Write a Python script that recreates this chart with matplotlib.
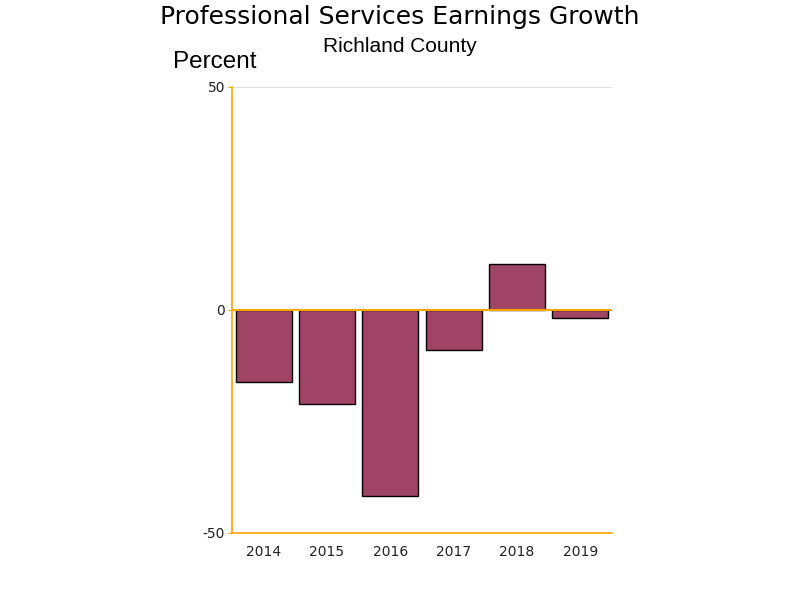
import matplotlib
matplotlib.use("Agg")
import matplotlib.pyplot as plt

years = ["2014", "2015", "2016", "2017", "2018", "2019"]
growth = [-16.2, -21.1, -41.7, -9.0, 10.2, -1.9]
yticks = [-50, 0, 50]

orange = "#FFA500"
bar_color = "#A04466"

fig = plt.figure(figsize=(8, 6), dpi=100)
ax = fig.add_axes([0.29, 0.112, 0.475, 0.743])

x = list(range(len(years)))
ax.bar(x, growth, width=0.885, color=bar_color, edgecolor="black", linewidth=1, zorder=3)
ax.axhline(0, color=orange, linewidth=1.5, zorder=4)
ax.axhline(50, color="#E0E0E0", linewidth=0.8, zorder=1)

ax.set_xlim(-0.5, len(years) - 0.5)
ax.set_ylim(-50, 50)
ax.set_xticks(x)
ax.set_xticklabels(years, fontsize=10, family="DejaVu Sans")
ax.set_yticks(yticks)
ax.set_yticklabels([str(v) for v in yticks], fontsize=10, family="DejaVu Sans")

for s in ["top", "right"]:
    ax.spines[s].set_visible(False)
ax.spines["left"].set_color(orange)
ax.spines["bottom"].set_color(orange)
ax.spines["left"].set_linewidth(1.2)
ax.spines["bottom"].set_linewidth(1.2)
ax.tick_params(axis="y", colors=orange, labelcolor="#222222", length=3, pad=2)
ax.tick_params(axis="x", length=0, pad=9, labelcolor="#222222")

fig.text(0.5, 0.971, "Professional Services Earnings Growth", ha="center", va="center",
         fontsize=18, family="DejaVu Sans")
fig.text(0.5, 0.922, "Richland County", ha="center", va="center",
         fontsize=15, family="Liberation Sans")
fig.text(0.268, 0.897, "Percent", ha="center", va="center",
         fontsize=17.5, family="Liberation Sans")

fig.savefig("out.png", dpi=100)
